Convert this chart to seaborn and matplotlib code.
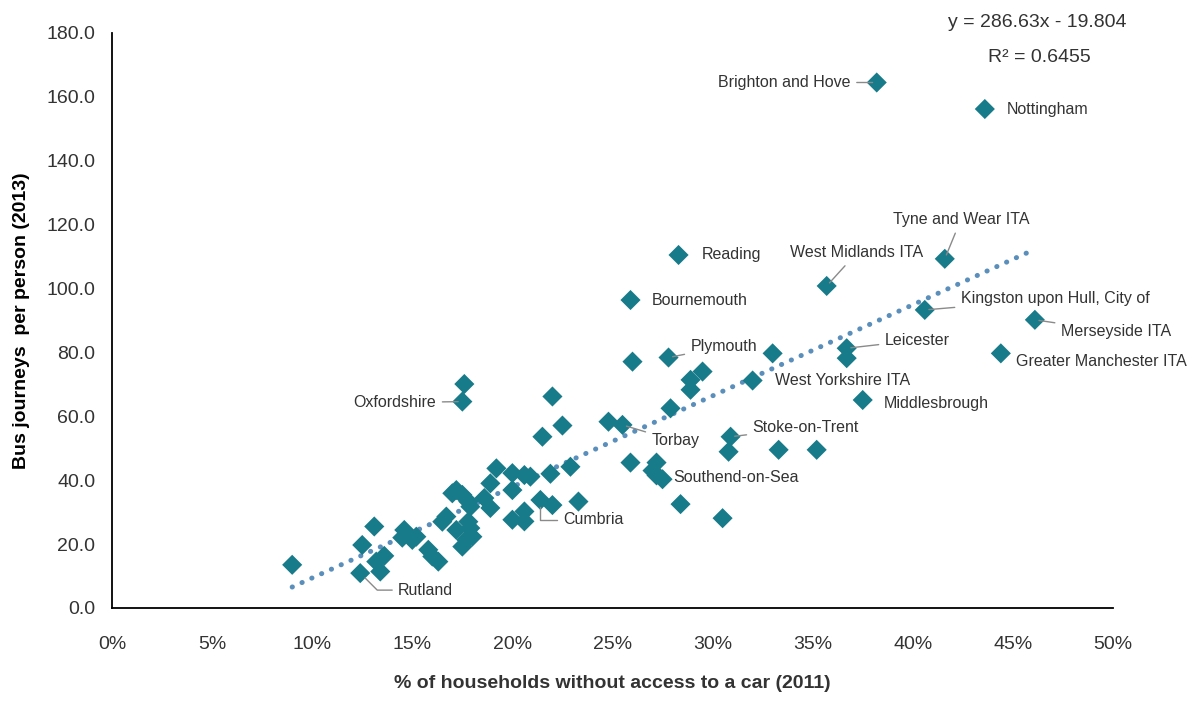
import matplotlib
matplotlib.use("Agg")
import matplotlib.pyplot as plt
import matplotlib.ticker as mtick
import seaborn as sns
import pandas as pd

# % of households without a car (2011) and bus journeys per person (2013)
no_car_pct = [
    9.0, 12.4, 12.5, 13.1, 13.2, 13.4, 13.6, 14.6, 14.5, 15.2,
    15.0, 15.8, 16.0, 16.3, 16.7, 16.5, 17.2, 17.2, 17.0, 17.5,
    17.8, 17.9, 17.8, 17.9, 18.0, 17.7, 17.5, 18.6, 18.9, 18.9,
    19.2, 20.0, 20.0, 20.6, 20.9, 20.0, 20.6, 20.6, 21.4, 22.0,
    21.9, 22.9, 23.3, 21.5, 22.0, 22.5, 17.5, 17.6, 24.8, 25.5,
    25.9, 26.0, 25.9, 27.2, 27.0, 27.2, 27.5, 27.8, 27.9, 28.3,
    28.4, 28.9, 28.9, 29.5, 30.5, 30.9, 30.8, 32.0, 33.0, 33.3,
    35.2, 35.7, 36.7, 36.7, 37.5, 38.2, 40.6, 41.6, 43.6, 44.4,
    46.1,
]
bus_journeys = [
    13.5, 10.9, 19.7, 25.5, 14.5, 11.4, 16.3, 24.4, 22.0, 22.3,
    21.3, 18.2, 16.1, 14.5, 28.6, 27.0, 24.4, 36.9, 35.9, 35.4,
    33.3, 31.7, 27.0, 25.0, 22.3, 21.3, 19.2, 34.4, 31.3, 39.0,
    43.7, 42.2, 36.9, 41.6, 41.1, 27.6, 30.2, 27.1, 33.8, 32.2,
    42.0, 44.2, 33.3, 53.6, 66.2, 57.1, 64.6, 70.1, 58.3, 57.3,
    45.5, 77.1, 96.4, 45.5, 43.0, 41.5, 40.3, 78.4, 62.5, 110.5,
    32.5, 71.4, 68.3, 74.0, 28.1, 53.6, 48.9, 71.2, 79.7, 49.5,
    49.5, 100.8, 81.3, 78.2, 65.1, 164.5, 93.3, 109.3, 156.2, 79.7,
    90.2,
]
area_names = [
    "", "Rutland", "", "", "", "", "", "", "", "",
    "", "", "", "", "", "", "", "", "", "",
    "", "", "", "", "", "", "", "", "", "",
    "", "", "", "", "", "", "", "", "Cumbria", "",
    "", "", "", "", "", "", "Oxfordshire", "", "", "Torbay",
    "", "", "Bournemouth", "", "", "Southend-on-Sea", "", "Plymouth", "", "Reading",
    "", "", "", "", "", "Stoke-on-Trent", "", "West Yorkshire ITA", "", "",
    "", "West Midlands ITA", "Leicester", "", "Middlesbrough", "Brighton and Hove",
    "Kingston upon Hull, City of", "Tyne and Wear ITA", "Nottingham", "Greater Manchester ITA",
    "Merseyside ITA",
]

df = pd.DataFrame({"no_car": no_car_pct, "bus": bus_journeys, "name": area_names})

# label placement: offset in pixels, alignment, leader line style
label_layout = {
    "Brighton and Hove": ((-26, 0), "right", "line"),
    "Nottingham": ((22, 0), "left", None),
    "Reading": ((23, 0), "left", None),
    "Bournemouth": ((21, 0), "left", None),
    "Plymouth": ((22, 11), "left", "line"),
    "Tyne and Wear ITA": ((16, 39), "center", "line"),
    "West Midlands ITA": ((30, 33), "center", "line"),
    "Kingston upon Hull, City of": ((36, 11), "left", "line"),
    "Merseyside ITA": ((26, -12), "left", "line"),
    "Greater Manchester ITA": ((15, -8), "left", None),
    "Leicester": ((38, 8), "left", "line"),
    "West Yorkshire ITA": ((22, 0), "left", None),
    "Middlesbrough": ((21, -4), "left", None),
    "Stoke-on-Trent": ((22, 9), "left", "line"),
    "Torbay": ((29, -16), "left", "line"),
    "Southend-on-Sea": ((17, -2), "left", None),
    "Oxfordshire": ((-26, -1), "right", "line"),
    "Cumbria": ((23, -20), "left", "elbow"),
    "Rutland": ((38, -17), "left", "diag"),
}

sns.set_style("white")
plt.rcParams["font.family"] = ["Liberation Sans Narrow", "Liberation Sans", "DejaVu Sans"]

teal = "#177b8a"
text_grey = "#333333"

fig = plt.figure(figsize=(11.98, 7.02), dpi=100)
ax = fig.add_axes([0.0935, 0.134, 0.8355, 0.819])

sns.regplot(data=df, x="no_car", y="bus", ax=ax, scatter=False, ci=None,
            line_kws=dict(color="#5a8fbb", lw=3.6, ls=(0, (0.05, 2.1)),
                          dash_capstyle="round"))
sns.scatterplot(data=df, x="no_car", y="bus", ax=ax, marker="D", s=105,
                color=teal, edgecolor="none", zorder=3)

for _, row in df[df["name"] != ""].iterrows():
    offset, ha, leader = label_layout[row["name"]]
    arrow = None
    if leader == "line":
        arrow = dict(arrowstyle="-", color="#8a8a8a", lw=1, shrinkA=2, shrinkB=3)
    elif leader == "elbow":
        arrow = dict(arrowstyle="-", color="#8a8a8a", lw=1, shrinkA=2, shrinkB=5,
                     connectionstyle="angle,angleA=0,angleB=90,rad=0")
    elif leader == "diag":
        arrow = dict(arrowstyle="-", color="#8a8a8a", lw=1, shrinkA=2, shrinkB=5,
                     connectionstyle="angle,angleA=0,angleB=-45,rad=0")
    ax.annotate(row["name"], xy=(row["no_car"], row["bus"]), xytext=offset,
                textcoords="offset pixels", ha=ha, va="center", fontsize=11.5,
                color=text_grey, arrowprops=arrow, zorder=4)

ax.text(0.924, 1.019, "y = 286.63x - 19.804", transform=ax.transAxes,
        ha="center", va="center", fontsize=14, color=text_grey)
ax.text(0.927, 0.958, "R² = 0.6455", transform=ax.transAxes,
        ha="center", va="center", fontsize=14, color=text_grey)

ax.set_xlim(0, 50)
ax.set_ylim(0, 180)
ax.set_xticks(range(0, 51, 5))
ax.set_yticks(range(0, 181, 20))
ax.xaxis.set_major_formatter(mtick.PercentFormatter(decimals=0))
ax.yaxis.set_major_formatter(mtick.FormatStrFormatter("%.1f"))
ax.tick_params(axis="both", direction="out", length=6, width=1.2, color="black",
               labelsize=14, labelcolor=text_grey, pad=6)
ax.tick_params(axis="x", pad=14)

sns.despine(ax=ax)
for side in ["left", "bottom"]:
    ax.spines[side].set_color("black")
    ax.spines[side].set_linewidth(1.3)

ax.set_xlabel("% of households without access to a car (2011)", fontsize=14,
              fontweight="bold", color=text_grey, labelpad=16)
ax.set_ylabel("Bus journeys  per person (2013)", fontsize=14,
              fontweight="bold", color="black", labelpad=12)

fig.savefig("out.png", dpi=100)
